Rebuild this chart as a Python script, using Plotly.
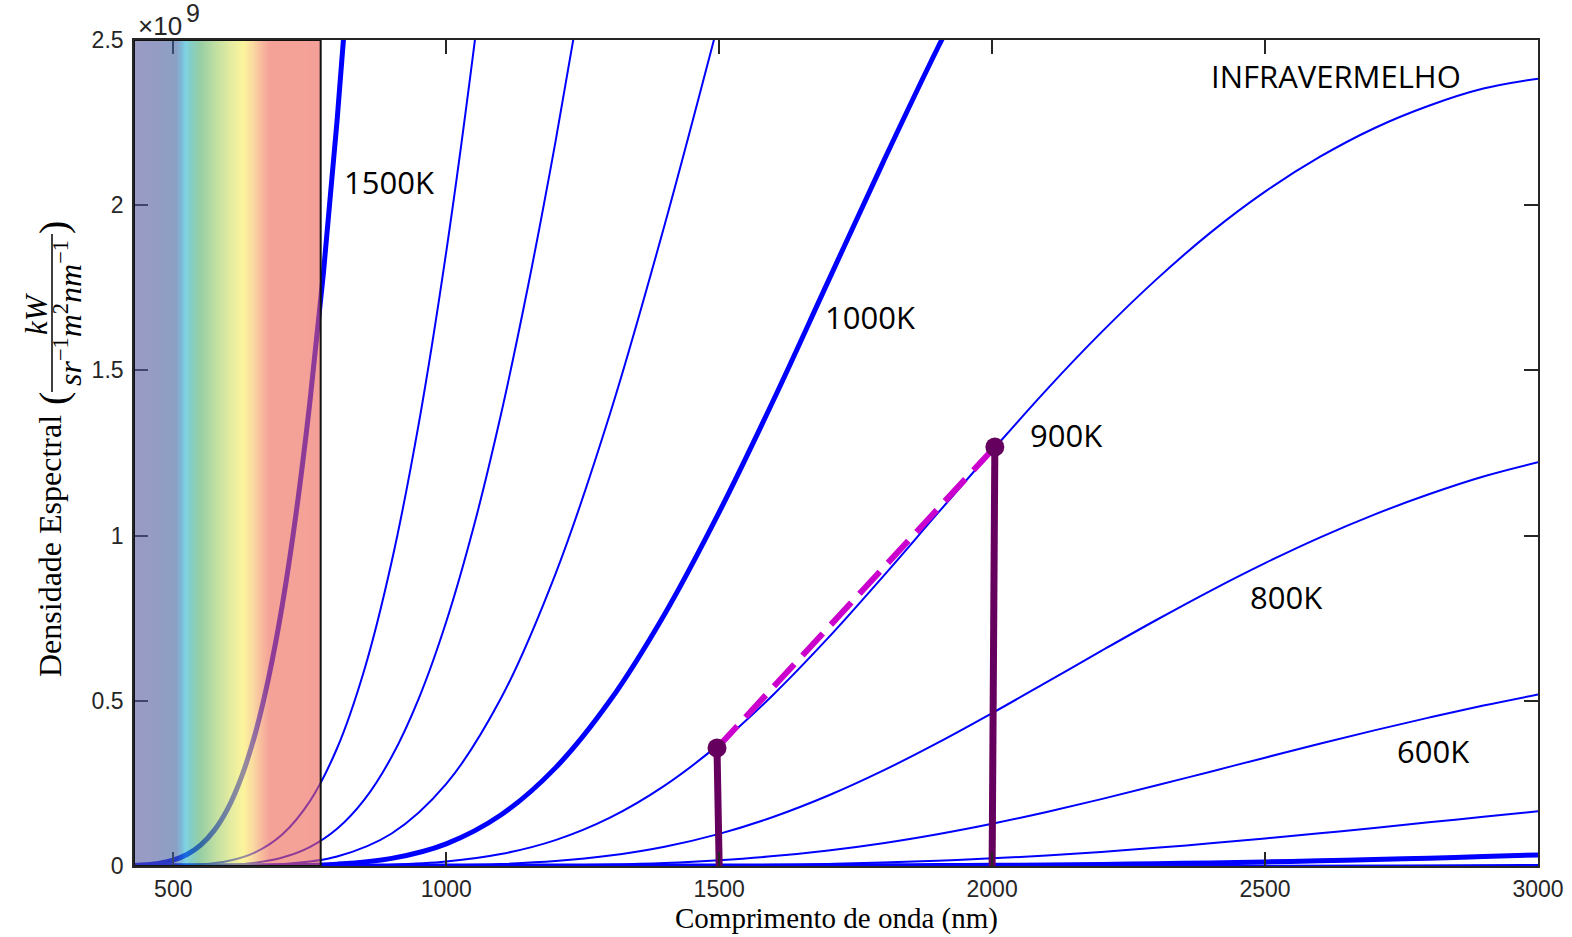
import base64
import struct
import zlib
import plotly.graph_objects as go

# ---------------- data (units of 1e9) ----------------
wl_1500 = [428, 450, 475, 500, 525, 550, 575, 600, 625, 650, 675, 700, 725, 750, 775, 800, 825, 850]
sd_1500 = [0.0014, 0.0036, 0.0084, 0.0178, 0.0347, 0.0631, 0.1078, 0.1746, 0.2700, 0.4004, 0.5729,
           0.793, 1.068, 1.401, 1.795, 2.256, 2.780, 3.372]

wl_1300 = [428, 500, 550, 600, 650, 700, 750, 800, 850, 900, 950, 1000, 1050, 1100]
sd_1300 = [0.0, 0.0009, 0.0043, 0.0149, 0.0414, 0.0963, 0.1957, 0.3564, 0.5941, 0.9208, 1.342, 1.859, 2.467, 3.157]

wl_1200 = [428, 500, 550, 600, 650, 700, 750, 800, 850, 900, 950, 1000, 1050, 1100, 1150, 1200, 1250, 1300]
sd_1200 = [0.0, 0.0002, 0.0008, 0.0032, 0.0100, 0.0258, 0.0572, 0.1125, 0.2008, 0.3304, 0.5083, 0.7391,
           1.025, 1.365, 1.756, 2.191, 2.665, 3.167]

wl_1100 = [428, 600, 700, 800, 900, 1000, 1100, 1200, 1300, 1400, 1500, 1600]
sd_1100 = [0.0, 0.0005, 0.0054, 0.0288, 0.0984, 0.2485, 0.5067, 0.8835, 1.369, 1.940, 2.561, 3.199]

wl_1000 = [428, 700, 800, 900, 1000, 1100, 1200, 1300, 1400, 1500, 1600, 1700, 1800, 1900, 2000]
sd_1000 = [0.0, 0.0008, 0.0056, 0.0230, 0.0672, 0.1543, 0.2970, 0.5007, 0.7622, 1.071, 1.412, 1.771,
           2.129, 2.475, 2.798]

wl_900 = [428, 800, 900, 1000, 1100, 1200, 1300, 1400, 1500, 1600, 1700, 1800, 1900, 2000, 2100, 2200,
          2300, 2400, 2500, 2600, 2700, 2800, 2900, 3000]
sd_900 = [0.0, 0.0008, 0.0039, 0.0136, 0.0361, 0.0784, 0.1464, 0.2433, 0.3689, 0.520, 0.691, 0.876, 1.067,
          1.257, 1.442, 1.615, 1.774, 1.917, 2.041, 2.146, 2.233, 2.301, 2.353, 2.383]

wl_800 = [428, 900, 1000, 1100, 1200, 1300, 1400, 1500, 1600, 1700, 1800, 1900, 2000, 2100, 2200, 2300,
          2400, 2500, 2600, 2700, 2800, 2900, 3000]
sd_800 = [0.0, 0.0004, 0.0018, 0.0059, 0.0148, 0.0315, 0.0584, 0.0973, 0.1491, 0.2133, 0.2886, 0.3726,
          0.4628, 0.5566, 0.651, 0.7438, 0.833, 0.9167, 0.994, 1.0636, 1.125, 1.1788, 1.222]

wl_700 = [428, 1000, 1100, 1200, 1300, 1400, 1500, 1600, 1700, 1800, 1900, 2000, 2100, 2200, 2300, 2400,
          2500, 2600, 2700, 2800, 2900, 3000]
sd_700 = [0.0, 0.0001, 0.0006, 0.0017, 0.0044, 0.0093, 0.0176, 0.0299, 0.0471, 0.0692, 0.0964, 0.1281,
          0.1637, 0.2024, 0.2434, 0.2855, 0.3279, 0.3698, 0.4104, 0.4491, 0.4855, 0.519]

wl_600 = [428, 1200, 1300, 1400, 1500, 1600, 1700, 1800, 1900, 2000, 2100, 2200, 2300, 2400, 2500, 2600,
          2700, 2800, 2900, 3000]
sd_600 = [0.0, 0.0001, 0.0003, 0.0008, 0.0018, 0.0035, 0.0063, 0.0103, 0.0159, 0.0231, 0.0320, 0.0427,
          0.0549, 0.0685, 0.0833, 0.0990, 0.1153, 0.1321, 0.1489, 0.1656]

wl_500 = [428, 1500, 1600, 1700, 1800, 1900, 2000, 2100, 2200, 2300, 2400, 2500, 2600, 2700, 2800, 2900, 3000]
sd_500 = [0.0, 0.0001, 0.0002, 0.0004, 0.0007, 0.0013, 0.0021, 0.0033, 0.0048, 0.0068, 0.0093, 0.0122,
          0.0157, 0.0195, 0.0238, 0.0285, 0.0335]

wl_400 = [428, 2000, 2250, 2500, 2750, 3000]
sd_400 = [0.0, 0.0001, 0.0002, 0.0007, 0.0016, 0.0030]

curve_temps = ["1500K", "1300K", "1200K", "1100K", "1000K", "900K", "800K", "700K", "600K", "500K", "400K"]
curve_wl = [wl_1500, wl_1300, wl_1200, wl_1100, wl_1000, wl_900, wl_800, wl_700, wl_600, wl_500, wl_400]
curve_sd = [sd_1500, sd_1300, sd_1200, sd_1100, sd_1000, sd_900, sd_800, sd_700, sd_600, sd_500, sd_400]
thick_curves = ["1500K", "1000K", "500K"]

# points marked on the 900K curve and their stems
marker_wl = [1496, 2005]
marker_sd = [0.357, 1.268]
stem_base_wl = [1500, 2000]

# curve labels
label_text = ["1500K", "1000K", "900K", "800K", "600K", "INFRAVERMELHO"]
label_wl = [896, 1777, 2135, 2539, 2807, 2630]
label_sd = [2.071, 1.663, 1.305, 0.813, 0.348, 2.390]

x_ticks = [500, 1000, 1500, 2000, 2500, 3000]
y_ticks = [0, 0.5, 1, 1.5, 2, 2.5]
y_ticktext = ["0", "0.5", "1", "1.5", "2", "2.5"]

x_min, x_max = 428, 3000
y_min, y_max = 0, 2.5
visible_end = 770

# visible-band gradient (nm, colour as seen over white)
band_nm = [428, 470, 505, 515, 523, 532, 549, 575, 605, 628, 645, 659, 677, 770]
band_rgb = [(154, 156, 198), (148, 156, 196), (140, 160, 196), (125, 185, 215), (128, 212, 226),
            (132, 206, 200), (150, 206, 164), (190, 222, 162), (228, 236, 160), (252, 244, 156),
            (250, 220, 160), (248, 192, 158), (244, 162, 152), (244, 160, 152)]
band_alpha = 0.6

# ---------------- layout constants ----------------
W, H = 1572, 937
ML, MR, MT, MB = 134, 34, 40, 71
PW, PH = W - ML - MR, H - MT - MB
BLUE = "#0000ff"
PURPLE = "#66005e"
MAGENTA = "#cc00cc"
AXC = "#262626"


def px_x(px):
    return (px - ML) / PW


def px_y(py):
    return (H - MB - py) / PH


def band_png():
    w, h = visible_end - x_min, 2
    row = bytearray()
    for i in range(w):
        nm = x_min + i + 0.5
        k = 0
        while k < len(band_nm) - 2 and nm > band_nm[k + 1]:
            k += 1
        t = (nm - band_nm[k]) / (band_nm[k + 1] - band_nm[k])
        t = min(max(t, 0.0), 1.0)
        obs = [band_rgb[k][j] + t * (band_rgb[k + 1][j] - band_rgb[k][j]) for j in range(3)]
        col = [int(round(min(255, max(0, (o - 255 * (1 - band_alpha)) / band_alpha)))) for o in obs]
        row += bytes(col + [int(round(255 * band_alpha))])
    raw = b"".join(b"\x00" + bytes(row) for _ in range(h))

    def chunk(tag, data):
        return struct.pack(">I", len(data)) + tag + data + struct.pack(">I", zlib.crc32(tag + data) & 0xffffffff)

    png = (b"\x89PNG\r\n\x1a\n" + chunk(b"IHDR", struct.pack(">IIBBBBB", w, h, 8, 6, 0, 0, 0))
           + chunk(b"IDAT", zlib.compress(raw)) + chunk(b"IEND", b""))
    return "data:image/png;base64," + base64.b64encode(png).decode()


fig = go.Figure()

for name, xs, ys in zip(curve_temps, curve_wl, curve_sd):
    fig.add_trace(go.Scatter(
        x=xs, y=ys, mode="lines", name=name,
        line=dict(color=BLUE, width=5 if name in thick_curves else 2, shape="spline", smoothing=1.0),
        hoverinfo="skip"))

# dashed chord between marked points
fig.add_trace(go.Scatter(x=marker_wl, y=marker_sd, mode="lines",
                         line=dict(color=MAGENTA, width=6, dash="30px,12px"), hoverinfo="skip"))
# stems
for mx, my, bx in zip(marker_wl, marker_sd, stem_base_wl):
    fig.add_trace(go.Scatter(x=[bx, mx], y=[y_min, my], mode="lines",
                             line=dict(color=PURPLE, width=7), hoverinfo="skip"))
fig.add_trace(go.Scatter(x=marker_wl, y=marker_sd, mode="markers",
                         marker=dict(color=PURPLE, size=19), hoverinfo="skip"))

annotations = []
for t, lx, ly in zip(label_text, label_wl, label_sd):
    annotations.append(dict(x=lx, y=ly, xref="x", yref="y", text=t, showarrow=False,
                            font=dict(family="Open Sans", size=31, color="black"),
                            xanchor="center", yanchor="middle"))

# x10^9 exponent
annotations.append(dict(x=px_x(136), y=px_y(26), xref="paper", yref="paper", text="×10",
                        showarrow=False, xanchor="left", yanchor="middle",
                        font=dict(family="Liberation Sans", size=26, color=AXC)))
annotations.append(dict(x=px_x(184), y=px_y(13), xref="paper", yref="paper", text="9",
                        showarrow=False, xanchor="left", yanchor="middle",
                        font=dict(family="Liberation Sans", size=25, color=AXC)))
# x-axis title
annotations.append(dict(x=px_x(836), y=px_y(918), xref="paper", yref="paper",
                        text="Comprimento de onda (nm)", showarrow=False,
                        xanchor="center", yanchor="middle",
                        font=dict(family="Liberation Serif", size=29, color="black")))
# y-axis title pieces
serif = dict(family="Liberation Serif", color="black")
annotations.append(dict(x=px_x(50), y=px_y(546), xref="paper", yref="paper", text="Densidade Espectral",
                        showarrow=False, textangle=-90, xanchor="center", yanchor="middle",
                        font=dict(size=32, **serif)))
annotations.append(dict(x=px_x(53), y=px_y(399), xref="paper", yref="paper", text="(",
                        showarrow=False, textangle=-90, xanchor="center", yanchor="middle",
                        font=dict(size=40, **serif)))
annotations.append(dict(x=px_x(53), y=px_y(228), xref="paper", yref="paper", text=")",
                        showarrow=False, textangle=-90, xanchor="center", yanchor="middle",
                        font=dict(size=40, **serif)))
annotations.append(dict(x=px_x(36), y=px_y(314), xref="paper", yref="paper", text="<i>kW</i>",
                        showarrow=False, textangle=-90, xanchor="center", yanchor="middle",
                        font=dict(size=31, **serif)))
annotations.append(dict(x=px_x(68), y=px_y(313), xref="paper", yref="paper",
                        text="<i>sr</i><sup>−1</sup><i>m</i><sup>2</sup><i>nm</i><sup>−1</sup>",
                        showarrow=False, textangle=-90, xanchor="center", yanchor="middle",
                        font=dict(size=32, **serif)))

shapes = [
    dict(type="line", xref="paper", yref="paper", x0=px_x(52), x1=px_x(52), y0=px_y(392), y1=px_y(234),
         line=dict(color="black", width=1.5)),
    dict(type="rect", xref="x", yref="y", x0=x_min, x1=visible_end, y0=y_min, y1=y_max,
         line=dict(color="#111111", width=2), fillcolor="rgba(0,0,0,0)", layer="above"),
]

images = [dict(source=band_png(), xref="x", yref="y", x=x_min, y=y_max,
               sizex=visible_end - x_min, sizey=y_max - y_min, sizing="stretch",
               xanchor="left", yanchor="top", layer="above")]

axis_common = dict(showline=True, linecolor=AXC, linewidth=1.6, mirror="ticks", ticks="inside",
                   ticklen=14, tickwidth=1.5, tickcolor=AXC, showgrid=False, zeroline=False,
                   automargin=False,
                   tickfont=dict(family="Liberation Sans", size=23, color=AXC))

fig.update_layout(
    width=W, height=H,
    margin=dict(l=ML, r=MR, t=MT, b=MB, pad=0, autoexpand=False),
    paper_bgcolor="white", plot_bgcolor="white",
    showlegend=False,
    xaxis=dict(range=[x_min, x_max], tickvals=x_ticks, ticklabelstandoff=2, **axis_common),
    yaxis=dict(range=[y_min, y_max], tickvals=y_ticks, ticktext=y_ticktext, ticklabelstandoff=4,
               **axis_common),
    annotations=annotations,
    shapes=shapes,
    images=images,
)

fig.write_html("out.html", config={"displayModeBar": False},
               post_script="document.body.style.margin='0';document.body.style.overflow='hidden';")
